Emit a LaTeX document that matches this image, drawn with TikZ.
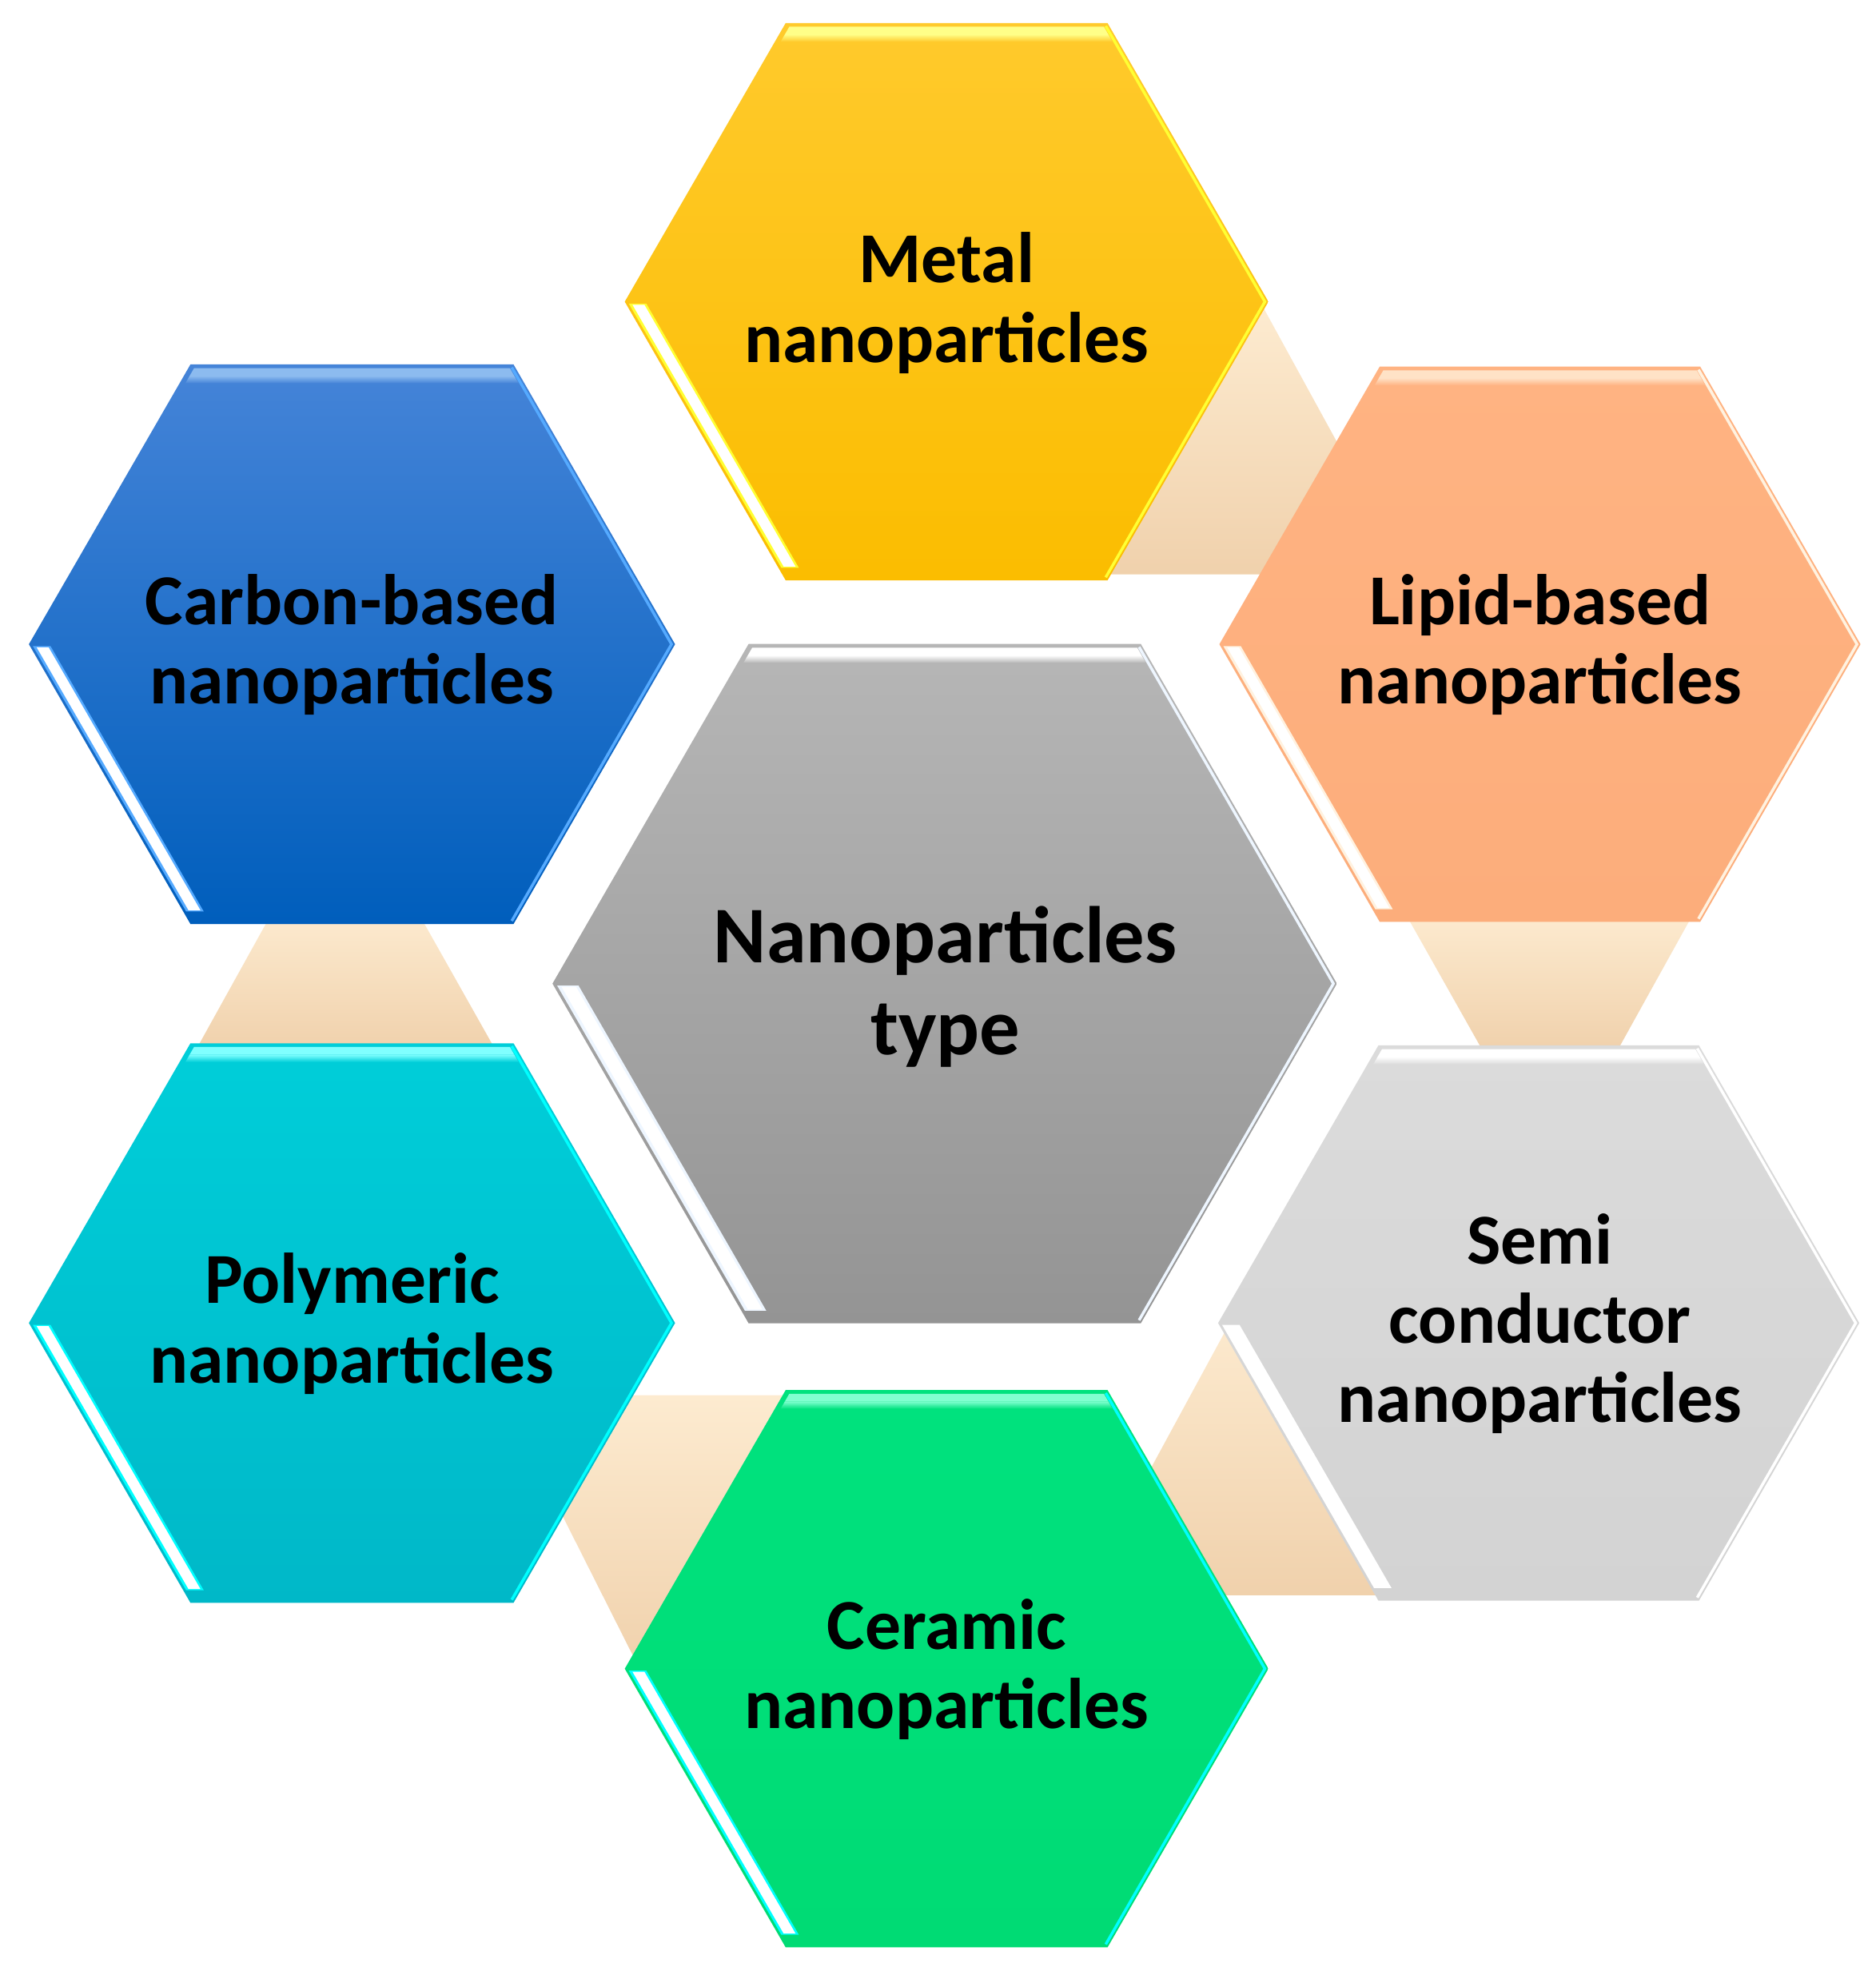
\documentclass[tikz,border=0pt]{standalone}
\usepackage{fontspec}
\setmainfont{Carlito}
\usetikzlibrary{calc}
% connector colours
\definecolor{conTop}{HTML}{FDEBD0}
\definecolor{conBot}{HTML}{F0D1AC}
% metal
\definecolor{mtTop}{HTML}{FFCA2C}\definecolor{mtMid}{HTML}{FFC500}\definecolor{mtBot}{HTML}{FBBD00}
\definecolor{mtEdge}{HTML}{FFFF33}\definecolor{mtBand}{HTML}{FFFF88}\definecolor{mtStripe}{HTML}{FFFFFF}
% carbon
\definecolor{cbTop}{HTML}{4584D8}\definecolor{cbMid}{HTML}{0A66C7}\definecolor{cbBot}{HTML}{005EBC}
\definecolor{cbEdge}{HTML}{55AAFF}\definecolor{cbBand}{HTML}{8CBBEF}\definecolor{cbStripe}{HTML}{FFFFFF}
% lipid
\definecolor{lpTop}{HTML}{FFB382}\definecolor{lpMid}{HTML}{FFB07E}\definecolor{lpBot}{HTML}{FCAD7B}
\definecolor{lpEdge}{HTML}{FFF2E0}\definecolor{lpBand}{HTML}{FFE2C6}\definecolor{lpStripe}{HTML}{FFFFFF}
% central
\definecolor{ctTop}{HTML}{B6B6B6}\definecolor{ctMid}{HTML}{A6A6A6}\definecolor{ctBot}{HTML}{949494}
\definecolor{ctEdge}{HTML}{EEF6FF}\definecolor{ctBand}{HTML}{FFFFFF}\definecolor{ctStripe}{HTML}{FFFFFF}
% polymeric
\definecolor{plTop}{HTML}{00CED9}\definecolor{plMid}{HTML}{00C8D3}\definecolor{plBot}{HTML}{00B8C8}
\definecolor{plEdge}{HTML}{00FFFF}\definecolor{plBand}{HTML}{80FFFF}\definecolor{plStripe}{HTML}{FFFFFF}
% semiconductor
\definecolor{smTop}{HTML}{DBDBDB}\definecolor{smMid}{HTML}{D8D8D8}\definecolor{smBot}{HTML}{D3D3D3}
\definecolor{smEdge}{HTML}{FFFFFF}\definecolor{smBand}{HTML}{FFFFFF}\definecolor{smStripe}{HTML}{FFFFFF}
% ceramic
\definecolor{crTop}{HTML}{00E27E}\definecolor{crMid}{HTML}{00E07A}\definecolor{crBot}{HTML}{00DB74}
\definecolor{crEdge}{HTML}{00FFFF}\definecolor{crBand}{HTML}{80FFD0}\definecolor{crStripe}{HTML}{FFFFFF}

\tikzset{
  connector/.style={top color=conTop, bottom color=conBot},
  lbl/.style={align=center, text=black, font=\bfseries\fontsize{25.5}{28.2}\selectfont, inner sep=0pt},
  lblbig/.style={align=center, text=black, font=\bfseries\fontsize{28.6}{32.6}\selectfont, inner sep=0pt}
}

% #1 cx, #2 cy, #3 R, #4 colour prefix
\newcommand\hexcell[4]{%
\begin{scope}[shift={(#1,#2)}]
\pgfmathsetmacro\hR{#3}%
\pgfmathsetmacro\hH{#3*0.8660254}%
\pgfmathsetmacro\hHf{#3*0.5}%
\pgfmathsetmacro\hHn{-#3*0.8660254}%
\shade[top color=#4Top, middle color=#4Mid, bottom color=#4Bot]
  (\hR,0) -- (\hHf,\hHn) -- (-\hHf,\hHn) -- (-\hR,0) -- (-\hHf,\hH) -- (\hHf,\hH) -- cycle;
% top highlight band
\pgfmathsetmacro\yA{\hHn+3}%
\pgfmathsetmacro\yB{\hHn+9}%
\pgfmathsetmacro\yC{\hHn+15}%
\pgfmathsetmacro\xA{\hR+0.57735*(\yA)-4.6}%
\pgfmathsetmacro\xB{\hR+0.57735*(\yB)-4.6}%
\pgfmathsetmacro\xC{\hR+0.57735*(\yC)-4.6}%
\fill[#4Band] (-\xA,\yA) -- (\xA,\yA) -- (\xB,\yB) -- (-\xB,\yB) -- cycle;
\shade[top color=#4Band, bottom color=#4Top] (-\xB,\yB) -- (\xB,\yB) -- (\xC,\yC) -- (-\xC,\yC) -- cycle;
% right edges highlight
\pgfmathsetmacro\rI{\hR-2.8}%
\pgfmathsetmacro\rIx{\rI*0.5}%
\pgfmathsetmacro\rIy{\rI*0.8660254}%
\draw[#4Edge, line width=1pt, line join=miter] (\rIx,-\rIy) -- (\rI,0) -- (\rIx,\rIy);
% lower-left stripe
\pgfmathsetmacro\sA{1.5}%
\pgfmathsetmacro\sB{\hH-10}%
\pgfmathsetmacro\dA{0.0078*\hR}%
\pgfmathsetmacro\dB{0.055*\hR}%
\pgfmathsetmacro\dC{0.016*\hR}%
\pgfmathsetmacro\dD{0.048*\hR}%
\pgfmathsetmacro\pA{-\hR+0.57735*\sA+1.1547*\dA}%
\pgfmathsetmacro\pB{-\hR+0.57735*\sA+1.1547*\dB}%
\pgfmathsetmacro\pC{-\hR+0.57735*\sB+1.1547*\dB}%
\pgfmathsetmacro\pD{-\hR+0.57735*\sB+1.1547*\dA}%
\fill[#4Edge] (\pA,\sA) -- (\pB,\sA) -- (\pC,\sB) -- (\pD,\sB) -- cycle;
\pgfmathsetmacro\qA{-\hR+0.57735*(\sA+1)+1.1547*\dC}%
\pgfmathsetmacro\qB{-\hR+0.57735*(\sA+1)+1.1547*\dD}%
\pgfmathsetmacro\qC{-\hR+0.57735*(\sB-1)+1.1547*\dD}%
\pgfmathsetmacro\qD{-\hR+0.57735*(\sB-1)+1.1547*\dC}%
\fill[#4Stripe] (\qA,\sA+1) -- (\qB,\sA+1) -- (\qC,\sB-1) -- (\qD,\sB-1) -- cycle;
\end{scope}}

\begin{document}
\begin{tikzpicture}[x=0.015724cm, y=-0.015724cm]
\useasboundingbox (0,0) rectangle (1492,1568);
\fill[white] (0,0) rectangle (1492,1568);

% connectors (behind the hexagons)
\shade[connector] (217,725) -- (332,725) -- (394,835) -- (156,835) -- cycle;      % carbon - polymeric
\shade[connector] (1117,725) -- (1348,725) -- (1287,835) -- (1179,835) -- cycle;  % lipid - semiconductor
\shade[connector] (1004,243) -- (1090,400) -- (1040,457) -- (880,457) -- cycle;   % metal - lipid
\shade[connector] (490,1110) -- (640,1110) -- (510,1330) -- (442,1195) -- cycle;  % polymeric - ceramic
\shade[connector] (985,1040) -- (890,1215) -- (950,1269) -- (1110,1269) -- cycle; % semiconductor - ceramic

% hexagons
\hexcell{753}{240}{256}{mt}
\hexcell{280}{512.5}{257}{cb}
\hexcell{1225}{512.5}{255}{lp}
\hexcell{751.5}{782.5}{312}{ct}
\hexcell{280}{1052.5}{257}{pl}
\hexcell{1224}{1052.5}{255}{sm}
\hexcell{753}{1327.5}{256}{cr}

% labels
\node[lbl] (metal) at (753,241) {Metal\\nanoparticles};
\node[lbl] (carbon) at (280,513) {Carbon-based\\nanoparticles};
\node[lbl] (lipid) at (1225,513) {Lipid-based\\nanoparticles};
\node[lblbig] (central) at (752,785) {Nanoparticles\\type};
\node[lbl] (polymeric) at (280,1053) {Polymeric\\nanoparticles};
\node[lbl] (semi) at (1225,1053) {Semi\\conductor\\nanoparticles};
\node[lbl] (ceramic) at (753,1328) {Ceramic\\nanoparticles};
\end{tikzpicture}
\end{document}
